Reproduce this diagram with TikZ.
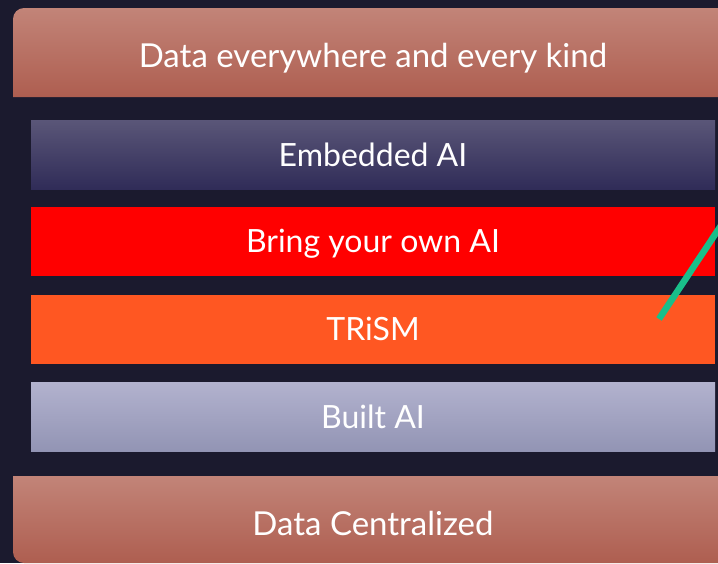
\documentclass[tikz,border=0pt]{standalone}
\usepackage{fontspec}
\setmainfont{Lato}

\definecolor{bgnavy}{HTML}{1B1A2E}
\definecolor{salmontop}{HTML}{C28478}
\definecolor{salmonbot}{HTML}{AE5E50}
\definecolor{embtop}{HTML}{5A5678}
\definecolor{embbot}{HTML}{302C58}
\definecolor{byored}{HTML}{FF0000}
\definecolor{trismorange}{HTML}{FF5722}
\definecolor{builttop}{HTML}{B2B2CE}
\definecolor{builtbot}{HTML}{9294B4}
\definecolor{linegreen}{HTML}{19BF8A}

\begin{document}
\begin{tikzpicture}[x=1pt,y=-1pt,
  layer/.style={minimum width=684pt, minimum height=69pt, inner sep=0pt,
    text height=23pt, text depth=0pt,
    text=white, font=\fontsize{32}{36}\selectfont},
  label/.style={inner sep=0pt, text height=23.8pt, text depth=0pt,
    text=white, font=\fontsize{33}{37}\selectfont}]
  \useasboundingbox (0,0) rectangle (718,563);
  \clip (0,0) rectangle (718,563);
  \fill[bgnavy] (0,0) rectangle (718,563);

  % top and bottom bands
  \shade[top color=salmontop, bottom color=salmonbot]
    (13,97) {[rounded corners=11pt] -- (13,8)} -- (730,8) -- (730,97) -- cycle;
  \node[label] (everywhere) at (373,56) {Data everywhere and every kind};
  \shade[top color=salmontop, bottom color=salmonbot]
    (13,476) {[rounded corners=11pt] -- (13,563)} -- (730,563) -- (730,476) -- cycle;
  \node[label] (centralized) at (373,524) {Data Centralized};

  % the four layers
  \node[layer, top color=embtop, bottom color=embbot] (embedded) at (373,154.5) {Embedded AI};
  \node[layer, fill=byored] (byoai) at (373,241) {Bring your own AI};
  \node[layer, fill=trismorange] (trism) at (373,329) {TRiSM};
  \node[layer, top color=builttop, bottom color=builtbot] (built) at (373,417) {Built AI};

  % pointer
  \coordinate (tip) at (659,319);
  \coordinate (tail) at (724,221);
  \draw[linegreen, line width=6.5pt] (tip) -- (tail);
\end{tikzpicture}
\end{document}
